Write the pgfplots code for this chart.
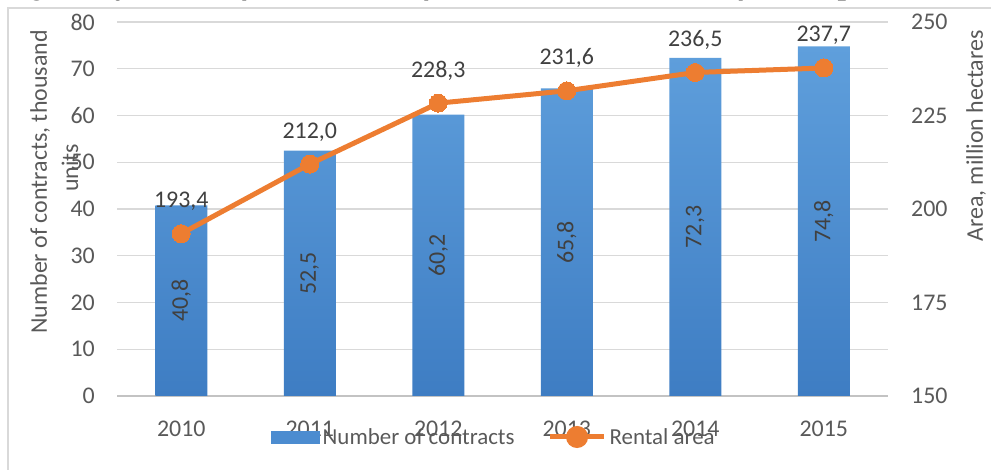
\documentclass[border=0pt]{standalone}
\usepackage{fontspec}
\setmainfont{Carlito}
\newfontfamily\titlefont{Liberation Serif}
\usepackage{pgfplots}
\pgfplotsset{compat=1.18}
\definecolor{barTop}{HTML}{5F9FDC}
\definecolor{barBot}{HTML}{3E7DC3}
\definecolor{barMid}{HTML}{4C8CD0}
\definecolor{lineOr}{HTML}{ED7D31}
\definecolor{tickGray}{HTML}{595959}
\definecolor{gridGray}{HTML}{D9D9D9}
\definecolor{lblGray}{HTML}{404040}
\pgfplotsset{/pgf/number format/assume math mode=true}
\begin{document}
\begin{tikzpicture}[x=1bp,y=1bp]
\useasboundingbox (0,0) rectangle (991,470);
\clip (0,0) rectangle (991,470);
\draw[gridGray, line width=1.5bp] (8,-5) -- (8,462) -- (1000,462);
\node[anchor=base west, inner sep=0pt, font=\titlefont\bfseries\itshape\fontsize{30}{33}\selectfont] at (4,475) {Fig. 1. Dynamics of the number of contracts and the area of leased plots};

\begin{axis}[
  at={(117bp,74bp)}, anchor=south west, scale only axis,
  width=771bp, height=374bp,
  xmin=-0.5, xmax=5.5, ymin=0, ymax=80,
  ytick={0,10,...,80},
  xtick={0,1,2,3,4,5}, xticklabels={2010,2011,2012,2013,2014,2015},
  axis x line*=bottom, axis y line*=left,
  x axis line style={-, draw=gridGray!90!black, line width=1.5bp},
  y axis line style={draw=none},
  major tick length=0pt,
  ymajorgrids, grid style={gridGray, line width=1.2bp},
  tick label style={font=\fontsize{24}{28}\selectfont, text=tickGray},
  yticklabel style={anchor=east, inner sep=0pt, xshift=-22bp},
  xticklabel style={anchor=north, inner sep=0pt, yshift=-25bp},
  clip=false,
]
\addplot[ybar, bar width=52bp, bar shift=0pt, draw=none, top color=barTop, bottom color=barBot]
  coordinates {(0,40.8) (1,52.5) (2,60.2) (3,65.8) (4,72.3) (5,74.8)};
\addplot[draw=none, mark=none, point meta=explicit,
  nodes near coords={\pgfmathprintnumber[fixed, fixed zerofill, precision=1, use comma]{\pgfplotspointmeta}},
  every node near coord/.append style={rotate=90, anchor=center, inner sep=0pt, text=lblGray, font=\fontsize{24}{28}\selectfont}]
  coordinates {(0,20.4)[40.8] (1,26.25)[52.5] (2,30.1)[60.2] (3,32.9)[65.8] (4,36.15)[72.3] (5,37.4)[74.8]};
\end{axis}

\begin{axis}[
  at={(117bp,74bp)}, anchor=south west, scale only axis,
  width=771bp, height=374bp,
  xmin=-0.5, xmax=5.5, ymin=150, ymax=250,
  ytick={150,175,...,250},
  axis x line=none, axis y line*=right,
  y axis line style={draw=none},
  major tick length=0pt,
  tick label style={font=\fontsize{24}{28}\selectfont, text=tickGray},
  yticklabel style={anchor=west, inner sep=0pt, xshift=23bp},
  clip=false,
  legend style={at={(0.4896,-0.1096)}, anchor=center, draw=none, fill=none,
    legend columns=2, font=\fontsize{23}{26}\selectfont, text=tickGray,
    inner sep=0pt, /tikz/every even column/.append style={column sep=30bp},
    nodes={inner sep=3bp}},
  legend cell align=left,
]
\addlegendimage{legend image code/.code={\fill[barMid] (0bp,-6bp) rectangle (48bp,6bp);}}
\addlegendentry{Number of contracts}
\addplot[lineOr, line width=5bp, mark=*, mark size=9bp,
  mark options={fill=lineOr, draw=lineOr, line width=0pt},
  point meta=y,
  nodes near coords={\pgfmathprintnumber[fixed, fixed zerofill, precision=1, use comma]{\pgfplotspointmeta}},
  every node near coord/.append style={anchor=base, inner sep=0pt, yshift=26bp, text=lblGray, font=\fontsize{24}{28}\selectfont},
  legend image code/.code={\draw[lineOr, line width=5bp] (0bp,0bp) -- (54bp,0bp); \fill[lineOr] (27bp,0bp) circle (8.5bp);}]
  coordinates {(0,193.4) (1,212.0) (2,228.3) (3,231.6) (4,236.5) (5,237.7)};
\addlegendentry{Rental area}
\end{axis}

\node[rotate=90, inner sep=0pt, text=tickGray, font=\fontsize{24}{28}\selectfont] at (40,288) {Number of contracts, thousand};
\node[rotate=90, inner sep=0pt, text=tickGray, font=\fontsize{24}{28}\selectfont] at (70,302) {units};
\node[rotate=90, inner sep=0pt, text=tickGray, font=\fontsize{24}{28}\selectfont] at (976,334) {Area, million hectares};
\end{tikzpicture}
\end{document}
